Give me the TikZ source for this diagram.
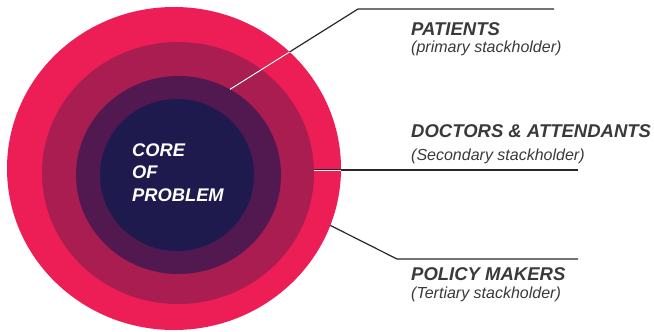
\documentclass[tikz,border=0pt]{standalone}
\usepackage{fontspec}
\setmainfont{Liberation Sans}
\usetikzlibrary{shapes.geometric}

\definecolor{ringA}{RGB}{237,30,85}
\definecolor{ringB}{RGB}{170,29,81}
\definecolor{ringC}{RGB}{82,24,80}
\definecolor{ringD}{RGB}{30,26,77}
\definecolor{labelgray}{RGB}{58,58,58}
\definecolor{leadgray}{RGB}{40,40,40}

\tikzset{
  ring/.style={ellipse, inner sep=0pt, outer sep=0pt},
  title/.style={anchor=base west, inner sep=0pt, text=labelgray,
    font=\fontsize{18.5}{22}\selectfont\bfseries\itshape},
  subtitle/.style={anchor=base west, inner sep=0pt, text=labelgray,
    font=\fontsize{16}{18}\selectfont\itshape},
  lead/.style={draw=leadgray, line width=1.2pt},
  leadin/.style={draw=white, line width=1pt},
}

\begin{document}
\begin{tikzpicture}[x=1pt,y=-1pt]
  \fill[white] (0,0) rectangle (654,332);
  \useasboundingbox (0,0) rectangle (654,332);

  % concentric stakeholder rings
  \node[ring, fill=ringA, minimum width=334pt, minimum height=323pt] (outer) at (174,168.5) {};
  \node[ring, fill=ringB, minimum width=272pt, minimum height=262pt] (second) at (178,173) {};
  \node[ring, fill=ringC, minimum width=205pt, minimum height=198pt] (third) at (178.5,175) {};
  \node[ring, fill=ringD, minimum width=154pt, minimum height=152pt] (core) at (177,175) {};

  % base anchor of a multi-line node sits on its last line
  \node[anchor=base west, inner sep=0pt, align=left, text=white,
        font=\fontsize{18.3}{22.5}\selectfont\bfseries\itshape] (coretext) at (132,201)
        {CORE\\OF\\PROBLEM};

  % labels
  \node[title] (patients) at (411,35) {PATIENTS};
  \node[subtitle] (patsub) at (411,52.5) {(primary stackholder)};
  \node[title] (doctors) at (411,137) {DOCTORS \& ATTENDANTS};
  \node[subtitle] (docsub) at (411,160) {(Secondary stackholder)};
  \node[title] (policy) at (411,280.7) {POLICY MAKERS};
  \node[subtitle] (polsub) at (411,298.3) {(Tertiary stackholder)};

  % leader line end points
  \coordinate (pElbow) at (358,9);
  \coordinate (pEnd) at (554,9);
  \coordinate (dEnd) at (578,170);
  \coordinate (dStart) at (314,170);
  \coordinate (mElbow) at (397,259);
  \coordinate (mEnd) at (578,259);

  \draw[lead] (third.59) -- (pElbow) -- (pEnd);
  \draw[lead] (dStart) -- (dEnd);
  \draw[lead] (outer.-20.3) -- (mElbow) -- (mEnd);

  % leader segments crossing the rings are drawn in white
  \begin{scope}
    \clip (174,168.5) ellipse [x radius=167pt, y radius=161.5pt];
    \draw[leadin] (third.59) -- (pElbow);
    \draw[leadin] (dStart) -- (dEnd);
  \end{scope}
\end{tikzpicture}
\end{document}
